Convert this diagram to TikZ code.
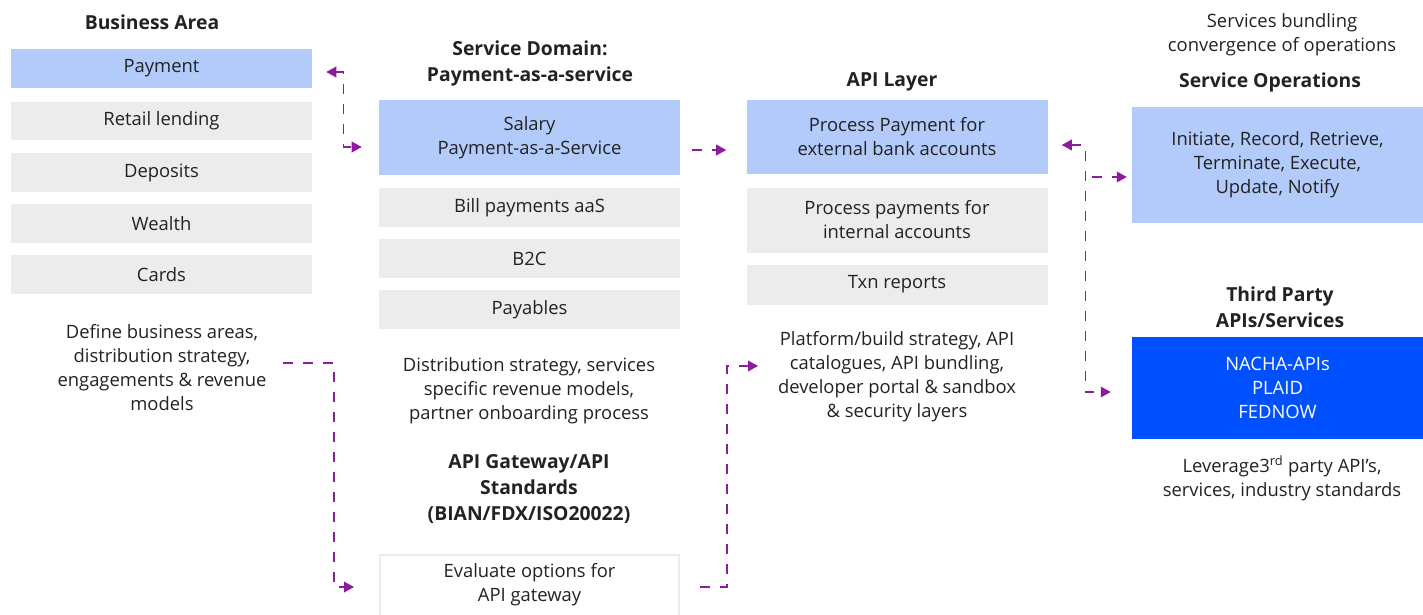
\documentclass[tikz,border=0pt]{standalone}
\usepackage{fontspec}
\setmainfont{Open Sans}
\usetikzlibrary{calc,arrows.meta}
\definecolor{lightblue}{RGB}{179,203,251}
\definecolor{boxgray}{RGB}{236,236,236}
\definecolor{deepblue}{RGB}{0,80,255}
\definecolor{flowpurple}{RGB}{142,26,160}
\definecolor{txt}{RGB}{34,34,34}

\begin{document}
\begin{tikzpicture}[x=0.75pt, y=-0.75pt,
  every node/.style={text=txt, font=\fontsize{13.8}{18}\selectfont, align=center},
  bluebox/.style={rectangle, fill=lightblue, minimum width=301*0.75pt, inner sep=0pt},
  graybox/.style={rectangle, fill=boxgray, minimum width=301*0.75pt, inner sep=0pt},
  heading/.style={font=\fontsize{14.5}{19.5}\selectfont\bfseries},
  flow/.style={flowpurple, line width=1.1pt, dash pattern=on 7.5pt off 7.5pt,
    arrows={-Triangle[length=7.5pt, width=8pt]}}]
\useasboundingbox (0,0) rectangle (1423,614);
% business area column
\node[heading] (bah) at (152,22) {Business Area};
\node[bluebox, minimum height=39*0.75pt] (pay) at (161.5,68.5) {Payment};
\node[graybox, minimum height=38*0.75pt] (ret) at (161.5,121) {Retail lending};
\node[graybox, minimum height=39*0.75pt] (dep) at (161.5,172.5) {Deposits};
\node[graybox, minimum height=39*0.75pt] (wea) at (161.5,223.5) {Wealth};
\node[graybox, minimum height=39*0.75pt] (car) at (161.5,274.5) {Cards};
\node (defba) at (162,368) {Define business areas,\\distribution strategy,\\engagements \& revenue\\models};
% service domain column
\node[heading] (sdh) at (530,63) {Service Domain:\\Payment-as-a-service};
\node[bluebox, minimum height=75*0.75pt] (sal) at (529.5,137.5) {Salary\\Payment-as-a-Service};
\node[graybox, minimum height=39*0.75pt] (bil) at (529.5,207.5) {Bill payments aaS};
\node[graybox, minimum height=39*0.75pt] (b2c) at (529.5,258.5) {B2C};
\node[graybox, minimum height=39*0.75pt] (pyb) at (529.5,309.5) {Payables};
\node (dstr) at (529,391) {Distribution strategy, services\\specific revenue models,\\partner onboarding process};
\node[heading] (gwh) at (529,489) {API Gateway/API\\Standards\\(BIAN/FDX/ISO20022)};
\node[rectangle, draw=boxgray, line width=1.5pt, fill=white, minimum width=299*0.75pt,
  minimum height=70*0.75pt, inner sep=0pt] (eval) at (529.5,590) {};
\node at (529.5,585) {Evaluate options for\\API gateway};
% api layer column
\node[heading] (alh) at (892,82) {API Layer};
\node[bluebox, minimum height=74*0.75pt] (pext) at (897,137) {Process Payment for\\external bank accounts};
\node[graybox, minimum height=65*0.75pt] (pint) at (897,220) {Process payments for\\internal accounts};
\node[graybox, minimum height=40*0.75pt] (txn) at (897,284.5) {Txn reports};
\node (plat) at (897,377) {Platform/build strategy, API\\catalogues, API bundling,\\developer portal \& sandbox\\\& security layers};
% service operations column
\node (sbun) at (1282,35) {Services bundling\\convergence of operations};
\node[heading] (soh) at (1270,82) {Service Operations};
\node[rectangle, fill=lightblue, minimum width=291*0.75pt, minimum height=116*0.75pt,
  inner sep=0pt] (sops) at (1277.5,165) {Initiate, Record, Retrieve,\\Terminate, Execute,\\Update, Notify};
\node[heading] (tph) at (1280,307) {Third Party\\APIs/Services};
\node[rectangle, fill=deepblue, text=white, minimum width=291*0.75pt, minimum height=102*0.75pt,
  inner sep=0pt] (tpa) at (1277.5,388) {NACHA-APIs\\PLAID\\FEDNOW};
\node (lev) at (1282,478) {Leverage3\textsuperscript{rd} party API’s,\\services, industry standards};
% connectors
\coordinate (dfs) at (283,363);
\coordinate (plt) at (758,366);
\draw[flow,{Triangle[length=7.5pt, width=8pt]}-{Triangle[length=7.5pt, width=8pt]}]
  ($(pay.east)+(14,3.5)$) -| ($(sal.west)+(-35,9.5)$) -- ($(sal.west)+(-17,9.5)$);
\draw[flow] ($(sal.east)+(12,12.5)$) -- ($(pext.west)+(-20,13)$);
\draw[flow,{Triangle[length=7.5pt, width=8pt]}-{Triangle[length=7.5pt, width=8pt]}]
  ($(pext.east)+(14,8)$) -| ($(tpa.west)+(-46,4)$) -- ($(tpa.west)+(-21,4)$);
\draw[flow] ($(sops.west)+(-40,12)$) -- ($(sops.west)+(-5,12)$);
\draw[flow] (dfs) -| ($(eval.west)+(-45,-3)$) -- ($(eval.west)+(-25,-3)$);
\draw[flow] ($(eval.east)+(20,-3)$) -- ($(eval.east)+(47,-3)$) |- (plt);
\end{tikzpicture}
\end{document}
